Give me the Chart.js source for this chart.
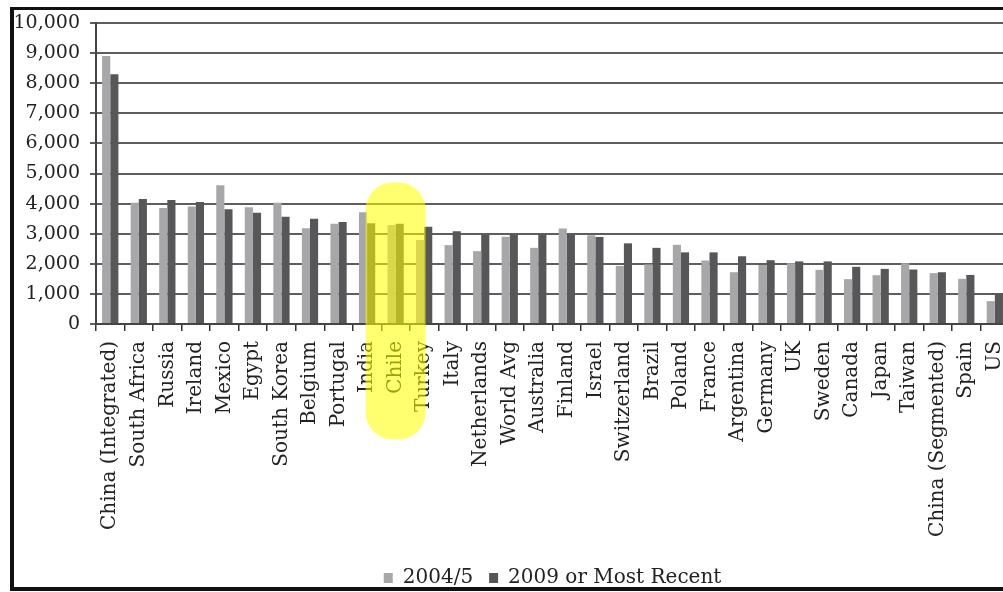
<!DOCTYPE html>
<html>
<head>
<meta charset="utf-8">
<script src="https://cdn.jsdelivr.net/npm/chart.js@4/dist/chart.umd.min.js"></script>
<style>
  html, body { margin: 0; padding: 0; background: #fff; overflow: hidden; width: 1003px; height: 592px; }
  #wrap { position: absolute; left: 0; top: 0; width: 1029px; height: 598px; }
  #frame {
    position: absolute; left: 10px; top: 7px; width: 1100px; height: 584px;
    box-sizing: border-box; border: 4px solid #111; border-top-width: 3px;
    pointer-events: none;
  }
</style>
</head>
<body>
<div id="wrap"><canvas id="myChart" width="1029" height="598"></canvas></div>
<div id="frame"></div>
<script>
// categories, left to right
const countries = [
  'China (Integrated)', 'South Africa', 'Russia', 'Ireland', 'Mexico', 'Egypt',
  'South Korea', 'Belgium', 'Portugal', 'India', 'Chile', 'Turkey', 'Italy',
  'Netherlands', 'World Avg', 'Australia', 'Finland', 'Israel', 'Switzerland',
  'Brazil', 'Poland', 'France', 'Argentina', 'Germany', 'UK', 'Sweden', 'Canada',
  'Japan', 'Taiwan', 'China (Segmented)', 'Spain', 'US'
];

// 2004/5
const values2004 = [
  8900, 4030, 3850, 3900, 4610, 3880, 4030, 3180, 3330, 3710, 3290, 2790, 2620,
  2420, 2900, 2530, 3170, 2950, 1930, 1980, 2630, 2110, 1720, 1960, 2020, 1800,
  1490, 1620, 2020, 1690, 1500, 760
];

// 2009 or Most Recent
const values2009 = [
  8300, 4150, 4120, 4050, 3810, 3700, 3560, 3500, 3390, 3350, 3330, 3230, 3080,
  2970, 2970, 2970, 3000, 2890, 2680, 2530, 2380, 2380, 2250, 2120, 2080, 2080,
  1900, 1830, 1810, 1720, 1630, 1020
];

const yMin = 0, yMax = 10000, yStep = 1000;
const highlighted = 'Chile';

const serif = '"DejaVu Serif", "Liberation Serif", serif';

// yellow marker stroke over the highlighted country
const highlighter = {
  id: 'highlighter',
  afterDraw(chart) {
    const { ctx, scales: { x, y } } = chart;
    const cx = x.getPixelForValue(countries.indexOf(highlighted));
    const top = y.getPixelForValue(4700);
    const w = 60, h = 257;
    ctx.save();
    ctx.fillStyle = 'rgba(255,255,0,0.56)';
    ctx.beginPath();
    ctx.roundRect(cx - w / 2, top, w, h, 27);
    ctx.fill();
    ctx.restore();
  }
};

const ctx = document.getElementById('myChart').getContext('2d');
const chart = new Chart(ctx, {
  type: 'bar',
  data: {
    labels: countries,
    datasets: [
      { label: '2004/5', data: values2004, backgroundColor: '#a7a7a9', categoryPercentage: 0.57, barPercentage: 1.0 },
      { label: '2009 or Most Recent', data: values2009, backgroundColor: '#57575a', categoryPercentage: 0.57, barPercentage: 1.0 }
    ]
  },
  options: {
    responsive: false,
    animation: false,
    devicePixelRatio: 1,
    layout: { padding: { top: 23, right: 11, bottom: 0, left: 0 } },
    plugins: {
      tooltip: { enabled: false },
      legend: {
        position: 'bottom',
        fullSize: false,
        labels: {
          color: '#222',
          font: { family: serif, size: 20 },
          boxWidth: 9,
          boxHeight: 10,
          padding: 16
        }
      }
    },
    scales: {
      x: {
        grid: { offset: true, drawOnChartArea: false, drawTicks: true, tickLength: 7, color: '#333', lineWidth: 1.5 },
        border: { display: true, color: '#444', width: 2 },
        ticks: {
          autoSkip: false, minRotation: 90, maxRotation: 90, padding: 10,
          color: '#222', font: { family: serif, size: 20 }
        },
        afterFit(scale) { scale.height = 228; }
      },
      y: {
        min: yMin, max: yMax,
        grid: { color: '#5e5e5e', lineWidth: 2, tickLength: 6 },
        border: { display: true, color: '#444', width: 2 },
        ticks: {
          stepSize: yStep, padding: 10, color: '#222',
          font: { family: serif, size: 19 },
          callback: v => v.toLocaleString('en-US')
        },
        afterFit(scale) { scale.width = 96; }
      }
    }
  },
  plugins: [highlighter]
});
</script>
</body>
</html>
